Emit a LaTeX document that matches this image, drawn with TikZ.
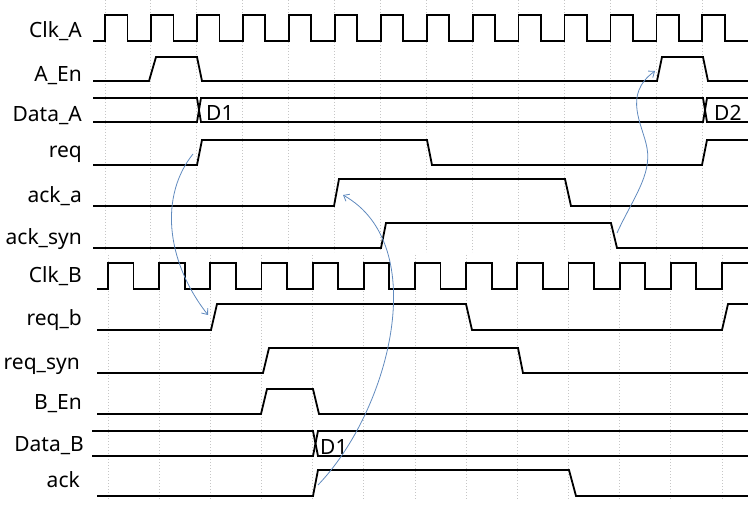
\documentclass[tikz,border=0pt]{standalone}
\usepackage{fontspec}
\setmainfont{Noto Sans}
\usetikzlibrary{arrows.meta}
\begin{document}
\begin{tikzpicture}[x=1pt, y=-1pt,
	sig/.style={line width=1.8pt, line join=miter},
	gridline/.style={gray!45, line width=1pt, dash pattern=on 1.2pt off 1.8pt},
	cause/.style={->, >={Straight Barb[length=5pt, width=8pt]}, line width=0.8pt, color={rgb,255:red,96;green,138;blue,190}},
	signame/.style={anchor=base east, inner sep=0pt, font=\fontsize{21}{25}\selectfont},
	busval/.style={anchor=base west, inner sep=0pt, font=\fontsize{21}{25}\selectfont}]
	\useasboundingbox (0,0) rectangle (748,508);

	% Define grid
	\foreach \i in {0,...,13}
		\draw[gridline] ({105+45.95*\i},0) -- ++(0,252);
	\foreach \i in {0,...,12}
		\draw[gridline] ({108+51.17*\i},255) -- ++(0,245);

	% Define Clk_A A_En Data_A
	\node[signame] (ClkA) at (82,38) {Clk\_A};
	\node[signame] (AEn) at (82,82) {A\_En};
	\node[signame] (DataA) at (82,122) {Data\_A};
	\node[busval] (D1a) at (206,121) {D1};
	\node[busval] (D2a) at (714,121) {D2};

	\draw[sig] (93,41) \foreach \i in {0,...,13} { -- ({105+45.95*\i},41) -- ++(0,-26) -- ++(22.5,0) -- ++(0,26) } -- (748,41);
	\draw[sig] (93,81) -- (149,81) -- (156,57) -- (197,57) -- (202,81) -- (657,81) -- (662,57) -- (703,57) -- (708,81) -- (748,81);
	\draw[sig] (93,98) -- (197,98) -- (201,122) -- (703,122) -- (707,98) -- (748,98);
	\draw[sig] (93,122) -- (197,122) -- (201,98) -- (703,98) -- (707,122) -- (748,122);

	% Define req ack_a ack_syn
	\node[signame] (Req) at (82,158) {req};
	\node[signame] (AckA) at (82,203) {ack\_a};
	\node[signame] (AckSyn) at (82,245) {ack\_syn};

	\draw[sig] (93,165) -- (197,165) -- (202,140) -- (427,140) -- (432,165) -- (702,165) -- (707,140) -- (748,140);
	\draw[sig] (93,206) -- (334,206) -- (339,179) -- (565,179) -- (571,206) -- (748,206);
	\draw[sig] (93,248) -- (381,248) -- (386,223) -- (611,223) -- (617,248) -- (748,248);

	% Define Clk_B req_b req_syn
	\node[signame] (ClkB) at (82,283) {Clk\_B};
	\node[signame] (ReqB) at (82,326) {req\_b};
	\node[signame] (ReqSyn) at (80,369) {req\_syn};

	\draw[sig] (97,289) \foreach \i in {0,...,11} { -- ({108+51.17*\i},289) -- ++(0,-26) -- ++(25.5,0) -- ++(0,26) } -- (722,289) -- (722,263) -- (748,263);
	\draw[sig] (97,330) -- (211,330) -- (217,304) -- (466,304) -- (472,330) -- (722,330) -- (728,304) -- (748,304);
	\draw[sig] (97,373) -- (263,373) -- (269,348) -- (518,348) -- (523,373) -- (748,373);

	% Define B_En Data_B ack
	\node[signame] (BEn) at (82,409) {B\_En};
	\node[signame] (DataB) at (84,451) {Data\_B};
	\node[signame] (Ack) at (80,487) {ack};
	\node[busval] (D1b) at (320,454) {D1};

	\draw[sig] (97,414) -- (261,414) -- (267,389) -- (313,389) -- (319,414) -- (748,414);
	\draw[sig] (92,431) -- (313,431) -- (318,456) -- (748,456);
	\draw[sig] (92,456) -- (313,456) -- (318,431) -- (748,431);
	\draw[sig] (97,496) -- (313,496) -- (318,470) -- (569,470) -- (576,496) -- (748,496);

	% Define handshake arrows
	\coordinate (ReqUp) at (193,154);
	\coordinate (ReqBUp) at (208,315);
	\coordinate (AckUp) at (318,485);
	\coordinate (AckAUp) at (343,195);
	\coordinate (AckSynDown) at (617,233);
	\coordinate (AEnUp) at (655,71);

	\draw[cause] (ReqUp) .. controls (160,195) and (165,260) .. (ReqBUp);
	\draw[cause] (AckUp) .. controls (390,410) and (432,245) .. (AckAUp);
	\draw[cause] (AckSynDown) .. controls (632,200) and (652,175) .. (647,148) .. controls (643,125) and (622,95) .. (AEnUp);
\end{tikzpicture}
\end{document}
